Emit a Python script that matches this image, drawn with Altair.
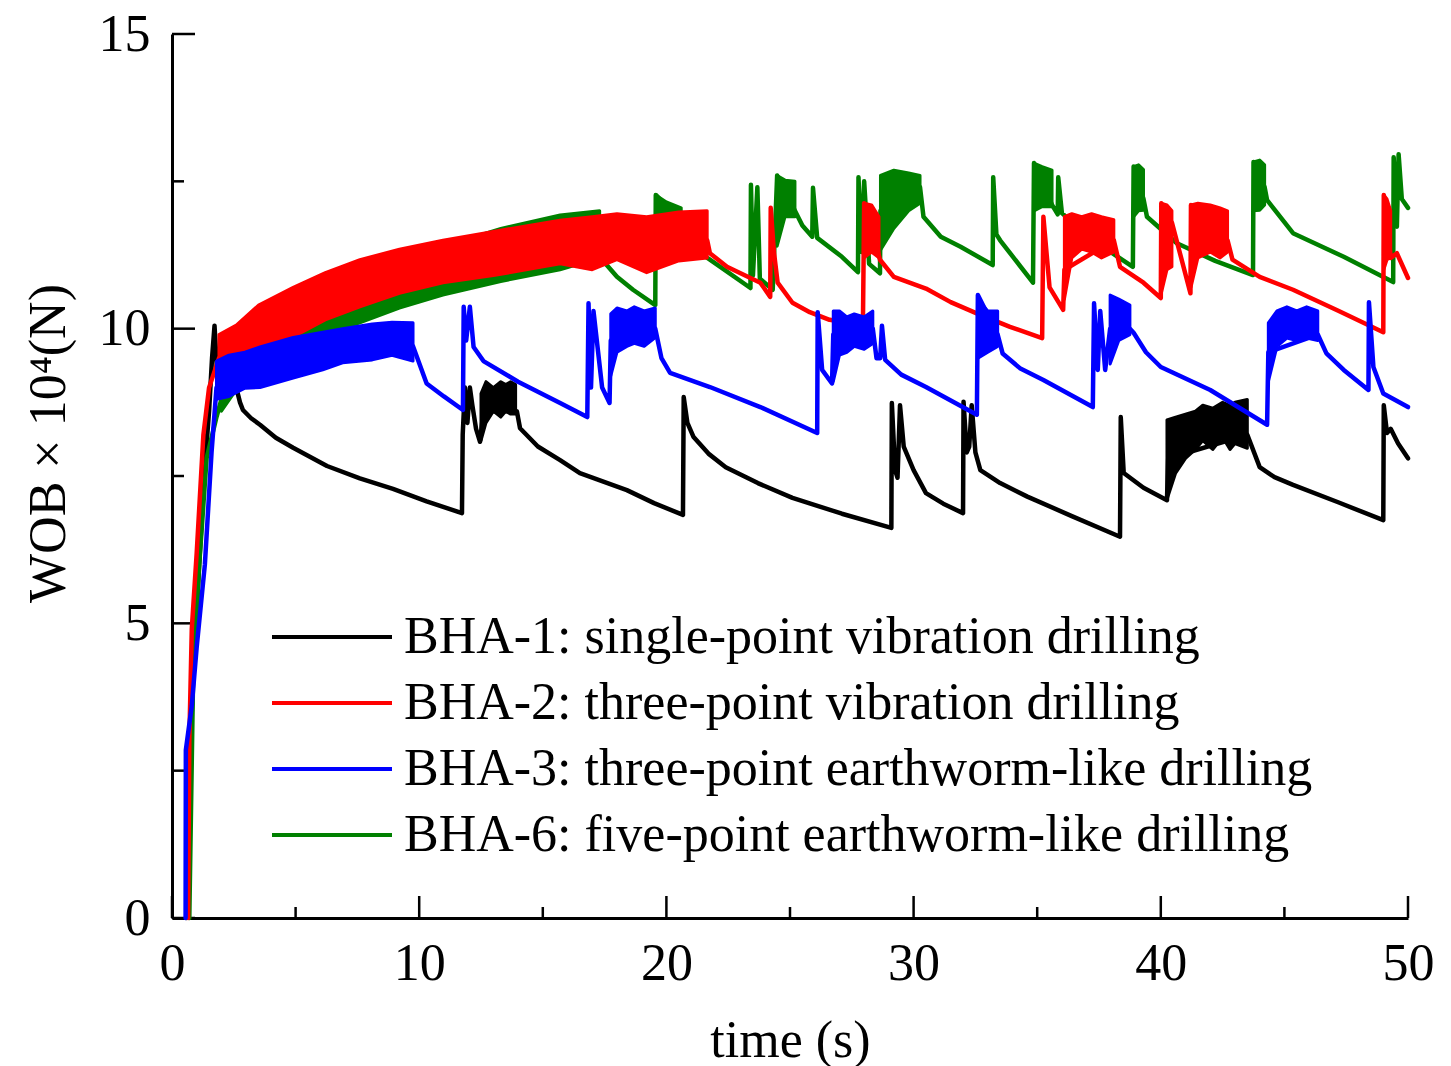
import altair as alt
import pandas as pd

# ---------------- data ----------------
SERIES = [
    "BHA-1: single-point vibration drilling",
    "BHA-2: three-point vibration drilling",
    "BHA-3: three-point earthworm-like drilling",
    "BHA-6: five-point earthworm-like drilling",
]
COLORS = ["#000000", "#ff0000", "#0000ff", "#008000"]

X_TICKS = [0, 10, 20, 30, 40, 50]
X_MINOR = [5, 15, 25, 35, 45]
Y_TICKS = [0, 5, 10, 15]
Y_MINOR = [2.5, 7.5, 12.5]

# (time s, WOB x10^4 N)
bha1_line = [
    (0.58, 0), (0.7, 2.5), (0.9, 4.5), (1.1, 6.0), (1.3, 7.5), (1.5, 8.6), (1.62, 9.5),
    (1.72, 10.05), (1.82, 9.3), (2.0, 9.4), (2.3, 9.2), (2.6, 9.0), (2.75, 8.75), (2.87, 8.62),
    (3.2, 8.48), (3.56, 8.37), (4.2, 8.15), (4.9, 7.98), (6.27, 7.67), (7.6, 7.46), (8.94, 7.28),
    (10.3, 7.07), (11.73, 6.87),
    (11.76, 8.2), (11.85, 9.0), (11.95, 8.4), (12.05, 9.0), (12.15, 8.7), (12.3, 8.3),
    (12.46, 8.08), (12.6, 8.6), (13.95, 8.6), (14.08, 8.31), (14.8, 8.0), (15.7, 7.77), (16.5, 7.55),
    (18.4, 7.26), (19.5, 7.04), (20.67, 6.84), (20.7, 8.84), (20.85, 8.4), (21.1, 8.16),
    (21.7, 7.88), (22.4, 7.65), (23.7, 7.38), (25.1, 7.13), (27.1, 6.86), (29.1, 6.62),
    (29.12, 8.74), (29.25, 7.6), (29.35, 7.47), (29.45, 8.7),
    (29.6, 8.0), (30.0, 7.6), (30.5, 7.21), (31.2, 7.03), (32.0, 6.87), (32.02, 8.76), (32.15, 7.9),
    (32.25, 8.0), (32.35, 8.7), (32.5, 7.9), (32.7, 7.6), (33.5, 7.38), (34.6, 7.15),
    (36.4, 6.82), (38.35, 6.47),
    (38.38, 8.5), (38.5, 7.55), (39.3, 7.3), (40.25, 7.09), (40.3, 7.8), (43.5, 8.2),
    (44.0, 7.65), (44.6, 7.48), (45.35, 7.35), (47.2, 7.05), (49.0, 6.75),
    (49.02, 8.7), (49.15, 8.23), (49.3, 8.3), (49.6, 8.05), (50.0, 7.8),
]
# noisy bands: (times, lower, upper)
bha1_bands = [
    ([12.5, 12.7, 13.0, 13.3, 13.5, 13.7, 13.9],
     [8.1, 8.4, 8.6, 8.5, 8.6, 8.55, 8.55],
     [8.9, 9.1, 9.0, 9.1, 9.05, 9.1, 9.05]),
    ([40.25, 40.6, 41.0, 41.4, 41.7, 42.1, 42.5, 42.8, 43.0, 43.5],
     [7.1, 7.55, 7.8, 7.95, 8.1, 7.95, 8.16, 7.95, 8.05, 7.97],
     [8.45, 8.5, 8.55, 8.6, 8.7, 8.65, 8.75, 8.7, 8.75, 8.8]),
]

bha2_line = [
    (0.65, 0), (0.7, 3.0), (0.8, 4.9), (1.0, 6.2), (1.27, 8.2), (1.5, 9.0), (1.9, 9.5),
    (4.9, 10.28), (7.6, 10.77), (10.96, 11.14), (15.7, 11.47), (18.0, 11.56),
    (21.65, 11.5), (21.76, 11.28), (22.45, 11.05), (23.8, 10.78), (24.2, 10.54),
    (24.22, 12.05), (24.35, 11.3), (24.5, 10.78), (25.1, 10.44), (25.8, 10.28), (26.6, 10.15),
    (27.95, 10.06), (28.0, 12.13), (28.15, 11.5), (28.3, 12.0), (28.5, 11.4),
    (28.64, 11.17), (29.2, 10.88), (30.5, 10.68), (31.5, 10.45), (32.6, 10.25), (33.9, 10.03),
    (35.2, 9.84),
    (35.25, 11.9), (35.5, 10.7), (36.05, 10.32), (36.1, 11.0), (38.1, 11.5),
    (38.35, 11.05), (39.3, 10.78), (40.0, 10.52), (40.02, 12.13), (40.3, 11.05),
    (40.45, 11.8), (41.2, 10.6), (41.22, 12.1), (42.7, 11.5), (42.9, 11.17),
    (44.0, 10.88), (45.35, 10.66), (47.2, 10.3), (49.0, 9.94), (49.02, 12.27), (49.3, 11.2),
    (49.55, 11.28), (50.0, 10.86),
]
bha2_bands = [
    ([1.9, 2.6, 3.5, 4.9, 6.2, 7.6, 9.2, 10.96, 13.0, 15.7, 17.0, 18.0, 19.2, 20.5, 21.65],
     [9.3, 9.47, 9.7, 9.86, 10.15, 10.37, 10.6, 10.78, 10.9, 11.1, 11.0, 11.17, 10.95, 11.15, 11.2],
     [9.9, 10.06, 10.4, 10.7, 10.95, 11.17, 11.35, 11.5, 11.65, 11.84, 11.9, 11.95, 11.9, 11.98, 12.0]),
    ([28.0, 28.3, 28.6], [11.2, 11.3, 11.2], [12.13, 12.1, 11.9]),
    ([36.1, 36.4, 36.8, 37.2, 37.6, 38.1], [10.5, 11.2, 11.35, 11.3, 11.2, 11.3],
     [11.9, 11.95, 11.9, 11.95, 11.9, 11.85]),
    ([40.02, 40.25, 40.45], [10.6, 11.0, 11.05], [12.13, 12.1, 12.0]),
    ([41.22, 41.5, 42.0, 42.4, 42.7], [10.7, 11.2, 11.3, 11.2, 11.3], [12.1, 12.13, 12.1, 12.05, 12.0]),
    ([49.02, 49.15, 49.3], [11.0, 11.17, 11.2], [12.27, 12.2, 12.0]),
]

bha3_line = [
    (0.55, 0), (0.56, 2.85), (0.8, 3.6), (1.0, 4.6), (1.33, 6.0), (1.6, 7.9), (1.8, 9.0),
    (4.9, 9.5), (9.75, 9.7), (10.3, 9.07), (11.0, 8.85), (11.77, 8.62), (11.8, 10.37), (11.9, 9.8),
    (12.05, 10.37), (12.2, 9.69), (12.6, 9.45), (14.0, 9.1), (15.7, 8.74), (16.8, 8.5),
    (16.85, 10.43), (16.95, 9.0), (17.05, 10.3), (17.4, 9.0), (17.7, 8.74), (17.75, 9.8),
    (19.55, 10.0), (19.8, 9.5), (20.15, 9.25), (21.76, 9.01), (23.8, 8.67), (26.1, 8.23),
    (26.12, 10.28), (26.3, 9.3), (26.7, 9.07), (26.75, 9.9), (28.35, 10.0), (28.5, 9.5),
    (28.65, 9.5), (28.72, 10.05), (28.85, 9.47), (29.5, 9.22), (30.5, 9.01), (32.56, 8.54),
    (32.6, 10.57), (33.4, 9.9), (33.6, 9.58), (34.3, 9.33), (35.25, 9.13), (37.25, 8.67),
    (37.3, 10.43), (37.45, 9.3), (37.55, 10.3), (37.75, 9.3), (37.95, 10.0),
    (38.75, 10.0), (38.9, 9.93), (39.4, 9.6), (40.0, 9.35), (42.0, 8.96), (44.3, 8.37),
    (44.35, 9.6), (46.35, 9.9), (46.7, 9.58), (47.4, 9.3), (48.4, 8.96),
    (48.42, 10.45), (48.6, 9.35), (49.0, 8.9), (50.0, 8.67),
]
bha3_bands = [
    ([1.8, 2.3, 2.95, 3.56, 4.9, 6.1, 6.9, 8.1, 8.9, 9.75],
     [8.8, 8.85, 8.99, 9.0, 9.16, 9.3, 9.42, 9.47, 9.55, 9.45],
     [9.45, 9.55, 9.6, 9.69, 9.85, 9.94, 10.0, 10.08, 10.11, 10.1]),
    ([17.75, 18.0, 18.4, 18.7, 19.1, 19.55], [9.2, 9.6, 9.7, 9.75, 9.7, 9.85],
     [10.25, 10.35, 10.3, 10.37, 10.3, 10.35]),
    ([26.75, 27.0, 27.3, 27.6, 28.0, 28.35], [9.1, 9.55, 9.6, 9.7, 9.65, 9.75],
     [10.3, 10.3, 10.2, 10.25, 10.2, 10.3]),
    ([32.6, 33.0, 33.4], [9.5, 9.6, 9.7], [10.5, 10.3, 10.3]),
    ([37.95, 38.3, 38.75], [9.4, 9.8, 9.9], [10.57, 10.5, 10.4]),
    ([44.35, 44.7, 45.1, 45.5, 45.9, 46.35], [9.1, 9.7, 9.84, 9.8, 9.84, 9.8],
     [10.1, 10.3, 10.37, 10.3, 10.37, 10.3]),
]

bha6_line = [
    (0.7, 0), (0.85, 4.0), (1.1, 6.0), (1.4, 7.8), (1.8, 8.5), (2.0, 8.8),
    (4.9, 10.0), (7.6, 10.5), (10.96, 11.0), (15.7, 11.45), (17.3, 11.6),
    (17.4, 11.17), (18.0, 10.88), (18.65, 10.66), (19.55, 10.4), (19.57, 12.27),
    (20.6, 11.8), (20.8, 11.45), (21.76, 11.17), (23.4, 10.69), (23.42, 12.44),
    (23.5, 10.9), (23.68, 12.4), (23.78, 10.85), (24.3, 10.66), (24.48, 12.6),
    (25.2, 12.0), (25.5, 11.75), (25.9, 11.56), (25.93, 12.39), (26.1, 11.54),
    (27.1, 11.22), (27.75, 10.96), (27.77, 12.57), (27.9, 11.3), (28.0, 12.5),
    (28.2, 11.1), (28.64, 10.94), (28.66, 12.0), (30.26, 12.4), (30.4, 11.9),
    (31.1, 11.56), (31.9, 11.39), (33.2, 11.08), (33.22, 12.57), (33.35, 11.6),
    (33.5, 11.5), (34.83, 10.78), (34.87, 12.81), (35.6, 12.1), (35.83, 11.94),
    (35.85, 12.57), (36.0, 11.96), (37.25, 11.5), (38.87, 11.05), (38.9, 12.75),
    (39.3, 12.2), (39.44, 11.9), (40.65, 11.45), (42.2, 11.15), (43.73, 10.91), (43.75, 12.83),
    (44.2, 12.4), (44.3, 12.18), (45.35, 11.62), (47.4, 11.22), (49.4, 10.79),
    (49.42, 12.91), (49.55, 11.73), (49.62, 12.96), (49.75, 12.2), (50.0, 12.05),
]
bha6_bands = [
    ([2.0, 2.5, 3.6, 4.9, 6.2, 7.6, 9.2, 10.96, 13.3, 15.7, 17.3],
     [8.6, 8.9, 9.3, 9.64, 9.9, 10.1, 10.35, 10.57, 10.8, 11.0, 11.2],
     [9.2, 9.6, 10.0, 10.4, 10.65, 10.9, 11.15, 11.4, 11.7, 11.93, 12.0]),
    ([19.57, 20.0, 20.6], [11.2, 11.6, 11.6], [12.27, 12.15, 12.05]),
    ([24.48, 24.8, 25.2], [11.4, 11.9, 11.9], [12.6, 12.52, 12.5]),
    ([28.66, 29.2, 29.8, 30.26], [11.33, 11.7, 12.0, 12.13], [12.6, 12.69, 12.64, 12.6]),
    ([34.87, 35.2, 35.6], [12.0, 12.07, 12.07], [12.81, 12.75, 12.69]),
    ([38.9, 39.1, 39.3], [11.9, 12.0, 12.01], [12.75, 12.78, 12.7]),
    ([43.75, 44.0, 44.2], [12.0, 12.01, 12.1], [12.83, 12.86, 12.78]),
]

# ---------------- layout constants ----------------
W, H = 1236, 884
FONT = "Liberation Serif"
LW = 4.5

xs = alt.Scale(domain=[0, 50], nice=False, zero=False)
ys = alt.Scale(domain=[0, 15], nice=False, zero=False)
color_enc = alt.Color("series:N", title=None,
                      scale=alt.Scale(domain=SERIES, range=COLORS),
                      sort=SERIES)

x_axis = alt.Axis(values=X_TICKS, format="d", title="time (s)", ticks=False, tickSize=0,
                  grid=False, labelFlush=False, labelPadding=20,
                  labelFontSize=52, labelFont=FONT, labelColor="black",
                  titleFontSize=52, titleFont=FONT, titleFontWeight="normal",
                  titleColor="black", titleX=W / 2, titleY=138,
                  titleBaseline="alphabetic", titleAlign="center",
                  domainColor="black", domainWidth=3)
y_axis = alt.Axis(values=Y_TICKS, format="d", title="WOB × 10⁴(N)", ticks=False, tickSize=0,
                  grid=False, labelPadding=22,
                  labelFontSize=52, labelFont=FONT, labelColor="black",
                  titleFontSize=52, titleFont=FONT, titleFontWeight="normal",
                  titleColor="black", titleAngle=270, titleX=-124, titleY=409,
                  titleBaseline="middle", titleAlign="center",
                  domainColor="black", domainWidth=3)


def line_df(name, pts):
    return pd.DataFrame({"series": name, "t": [p[0] for p in pts],
                         "v": [p[1] for p in pts], "i": range(len(pts))})


def band_df(name, bands):
    rows = []
    for k, (ts, lo, hi) in enumerate(bands):
        for a, b, c in zip(ts, lo, hi):
            rows.append({"series": name, "seg": k, "t": a, "lo": b, "hi": c})
    return pd.DataFrame(rows)


# tick marks (inward)
tx_major = alt.Chart(pd.DataFrame({"t": X_TICKS})).mark_rule(color="black", strokeWidth=2.5).encode(
    x=alt.X("t:Q", scale=xs, axis=x_axis), y=alt.value(H), y2=alt.value(H - 22))
tx_minor = alt.Chart(pd.DataFrame({"t": X_MINOR})).mark_rule(color="black", strokeWidth=2.5).encode(
    x=alt.X("t:Q", scale=xs), y=alt.value(H), y2=alt.value(H - 11))
ty_major = alt.Chart(pd.DataFrame({"v": Y_TICKS})).mark_rule(color="black", strokeWidth=2.5).encode(
    y=alt.Y("v:Q", scale=ys, axis=y_axis), x=alt.value(0), x2=alt.value(23))
ty_minor = alt.Chart(pd.DataFrame({"v": Y_MINOR})).mark_rule(color="black", strokeWidth=2.5).encode(
    y=alt.Y("v:Q", scale=ys), x=alt.value(0), x2=alt.value(12))

layers = [tx_major, tx_minor, ty_major, ty_minor]

draw = [
    (SERIES[0], COLORS[0], bha1_line, bha1_bands),
    (SERIES[3], COLORS[3], bha6_line, bha6_bands),
    (SERIES[1], COLORS[1], bha2_line, bha2_bands),
    (SERIES[2], COLORS[2], bha3_line, bha3_bands),
]
for name, col, pts, bands in draw:
    layers.append(
        alt.Chart(band_df(name, bands)).mark_area(color=col, opacity=1, stroke=col, strokeWidth=3,
                                                  strokeJoin="round").encode(
            x=alt.X("t:Q", scale=xs), y=alt.Y("lo:Q", scale=ys), y2="hi:Q", detail="seg:N")
    )
    layers.append(
        alt.Chart(line_df(name, pts)).mark_line(strokeWidth=LW, strokeCap="round", strokeJoin="round").encode(
            x=alt.X("t:Q", scale=xs), y=alt.Y("v:Q", scale=ys), color=color_enc,
            order=alt.Order("i:Q"))
    )

chart = alt.layer(*layers).properties(
    width=W, height=H,
    autosize=alt.AutoSizeParams(type="none"),
    padding={"left": 164, "top": 26, "right": 35, "bottom": 148},
).configure(font=FONT).configure_view(stroke=None).configure_legend(
    orient="none", legendX=98, legendY=570, symbolType="stroke", symbolSize=14400,
    symbolStrokeWidth=4, labelFont=FONT, labelFontSize=52, labelColor="black",
    labelOffset=10, rowPadding=0, clipHeight=66, padding=0, labelLimit=2000,
)

chart.save("out.html", embed_options={"renderer": "svg", "actions": False})
